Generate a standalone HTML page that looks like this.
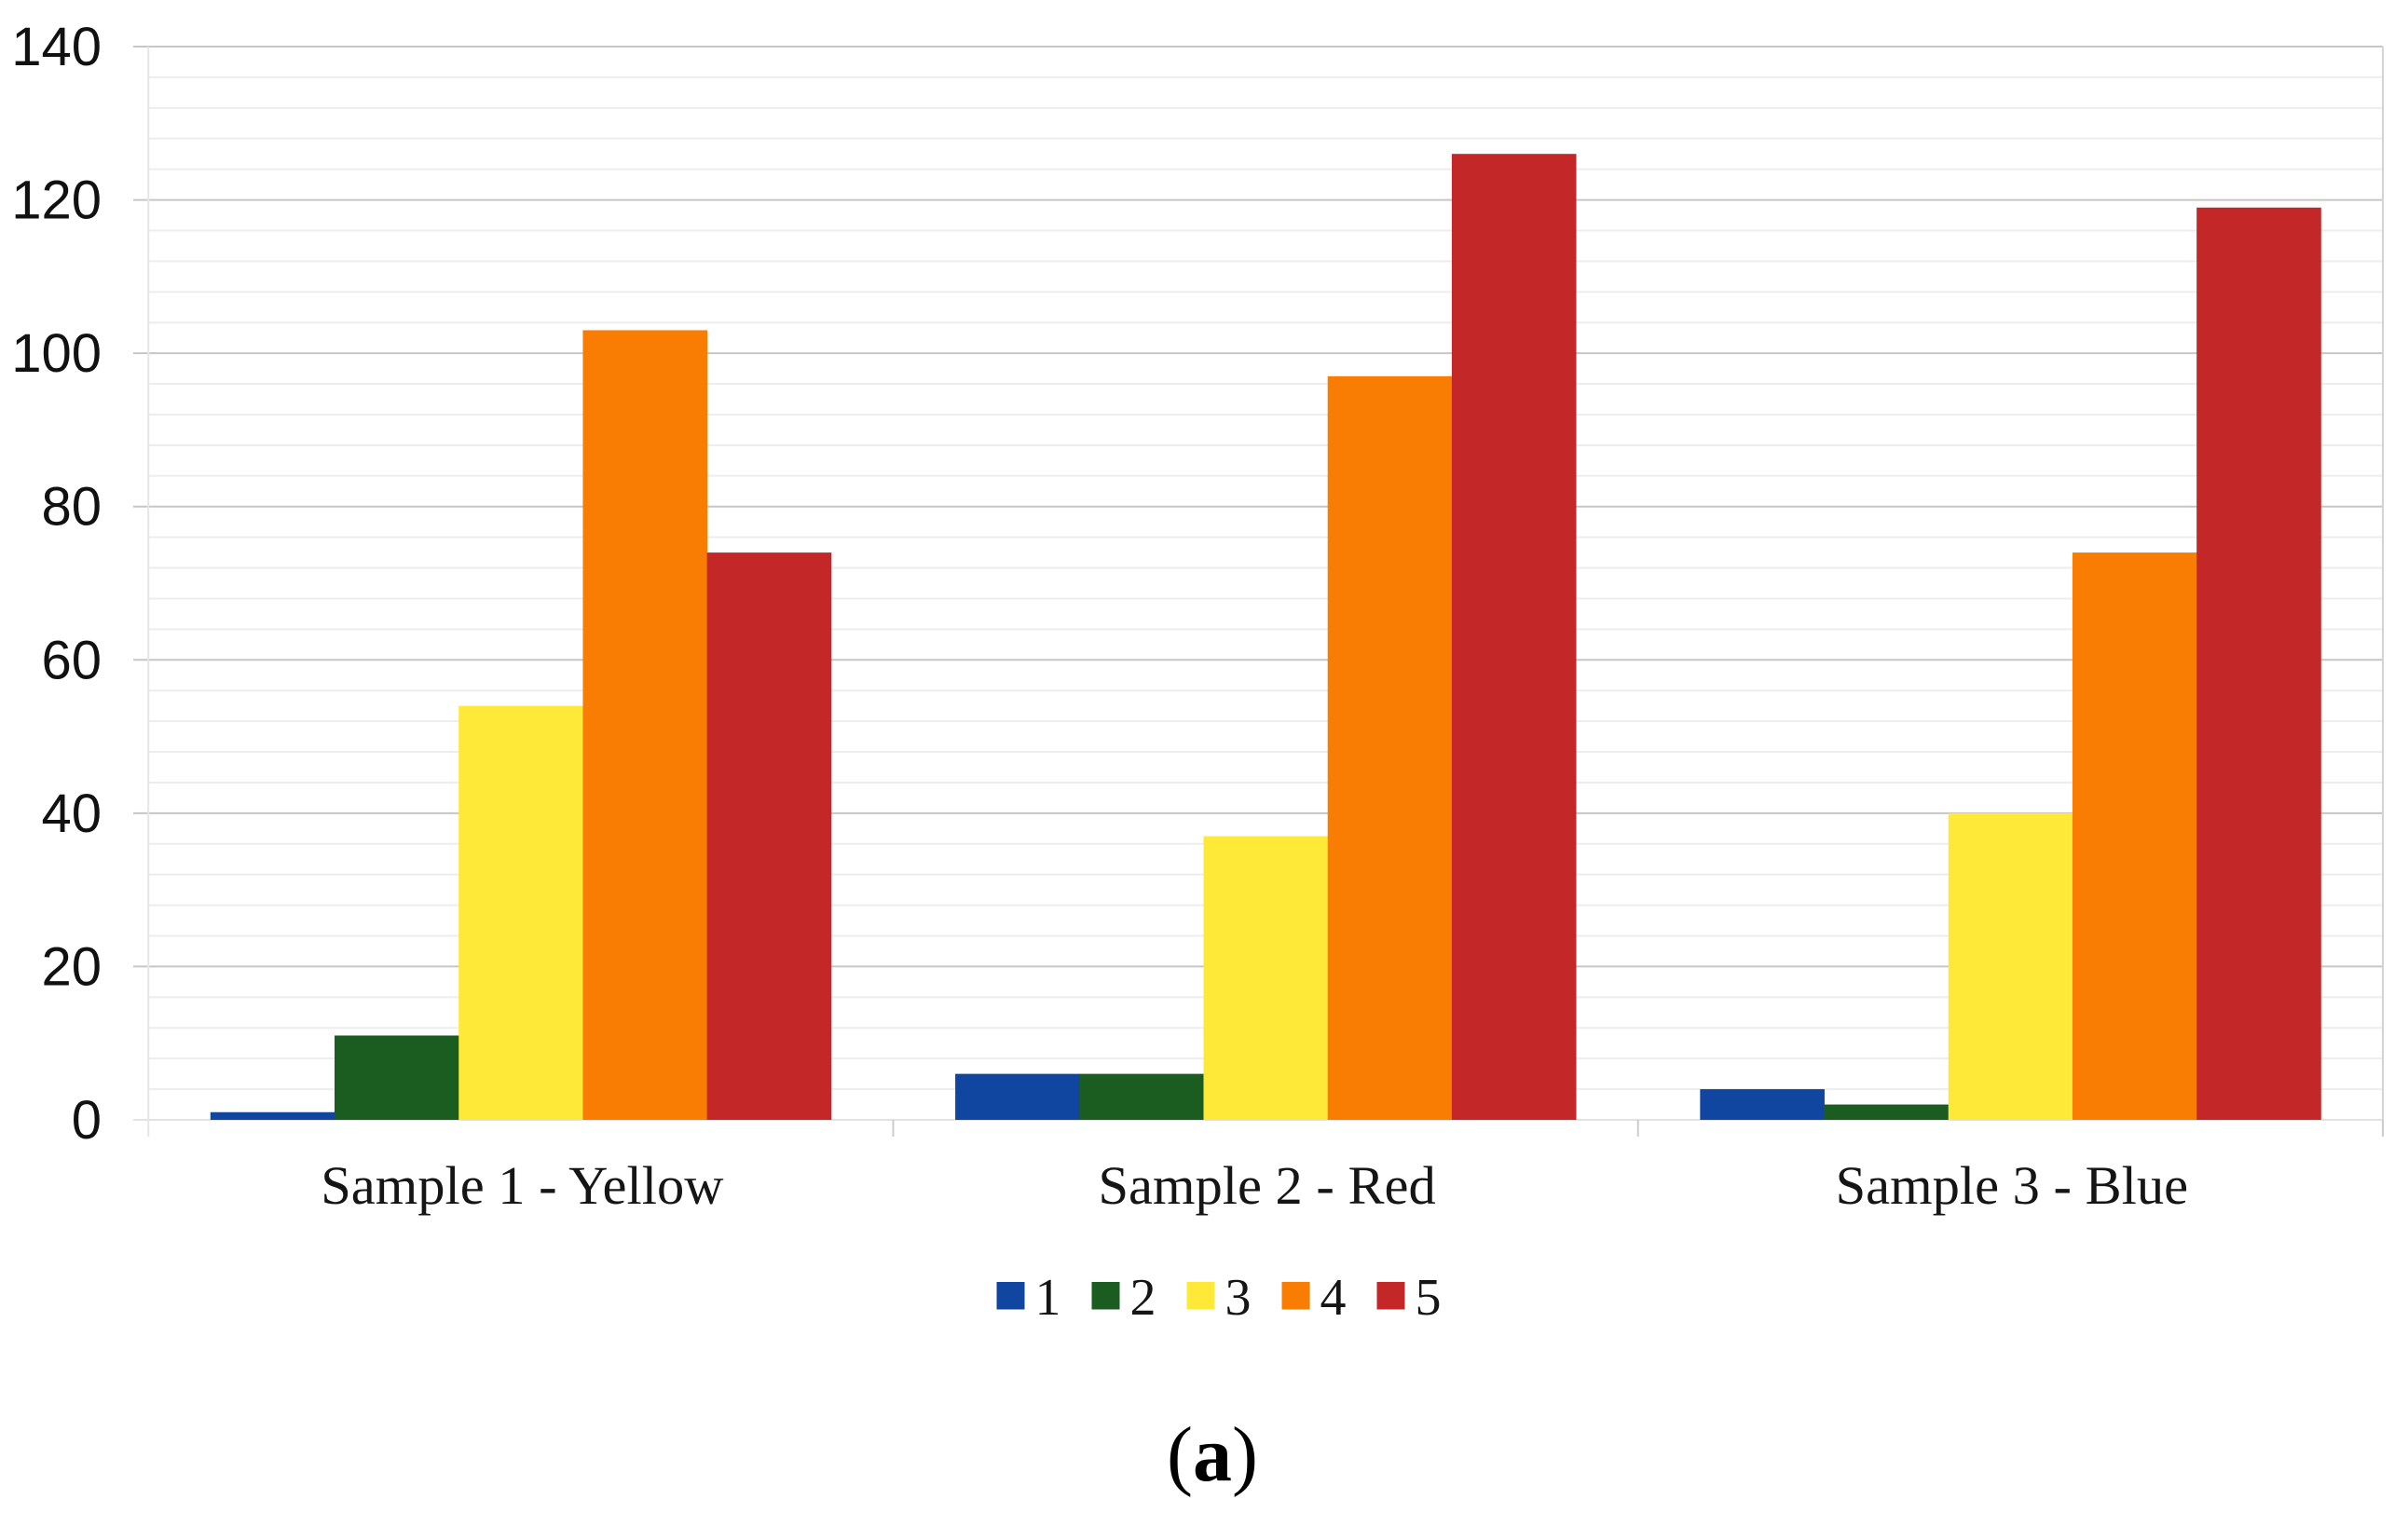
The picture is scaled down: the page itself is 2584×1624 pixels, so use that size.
<!DOCTYPE html>
<html lang="en">
<head>
<meta charset="utf-8">
<title>Sample bar chart</title>
<style>
  html, body { margin: 0; padding: 0; background: #ffffff; }
  body { width: 2584px; height: 1624px; overflow: hidden; }
  svg { display: block; }
  .tick { font-family: "Liberation Sans", sans-serif; font-size: 58px; fill: #111111; text-anchor: end; }
  .cat { font-family: "Liberation Serif", serif; font-size: 58.5px; fill: #151515; text-anchor: middle; }
  .leg { font-family: "Liberation Serif", serif; font-size: 56px; fill: #151515; }
  .cap { font-family: "Liberation Serif", serif; font-size: 84px; fill: #000000; text-anchor: middle; }
</style>
</head>
<body>
<svg id="chart" xmlns="http://www.w3.org/2000/svg" width="2584" height="1624" viewBox="0 0 2584 1624">
  <rect x="0" y="0" width="2584" height="1624" fill="#ffffff"></rect>
  <g id="grid"></g>
  <g id="yticks"></g>
  <g id="bars"></g>
  <g id="xticks"></g>
  <g id="legend"></g>
  <text class="cap" x="1301" y="1589">(<tspan font-weight="bold">a</tspan>)</text>
</svg>
<script>
const categories = ["Sample 1 - Yellow", "Sample 2 - Red", "Sample 3 - Blue"];
const seriesNames = ["1", "2", "3", "4", "5"];
const seriesColors = ["#10469f", "#1b5c20", "#ffe938", "#f97c03", "#c42727"];
const series1 = [1, 6, 4];
const series2 = [11, 6, 2];
const series3 = [54, 37, 40];
const series4 = [103, 97, 74];
const series5 = [74, 126, 119];
const yTickLabels = [0, 20, 40, 60, 80, 100, 120, 140];
const yMinorStep = 4;

const allSeries = [series1, series2, series3, series4, series5];
const NS = "http://www.w3.org/2000/svg";
const plotLeft = 159.2, plotRight = 2557, plotTop = 50, plotBottom = 1202;
const yMax = yTickLabels[yTickLabels.length - 1];

function yScale(v) {
  return plotBottom - (v / yMax) * (plotBottom - plotTop);
}
function groupLeft(i) {
  return plotLeft + i * (plotRight - plotLeft) / categories.length;
}
function groupWidth() {
  return (plotRight - plotLeft) / categories.length;
}
function barWidth() {
  return groupWidth() / (seriesNames.length + 1);
}
function barX(i, s) {
  return groupLeft(i) + barWidth() / 2 + s * barWidth();
}
function make(tag, parent, attrs) {
  const el = document.createElementNS(NS, tag);
  for (const k in attrs) el.setAttribute(k, attrs[k]);
  parent.appendChild(el);
  return el;
}

const grid = document.getElementById("grid");
const yticks = document.getElementById("yticks");
const bars = document.getElementById("bars");
const xticks = document.getElementById("xticks");
const legend = document.getElementById("legend");

for (let v = 0; v <= yMax; v += yMinorStep) {
  if (v % 20 === 0) continue;
  const line = make("line", grid, { x1: plotLeft, x2: plotRight, y1: yScale(v), y2: yScale(v), stroke: "#ededed", "stroke-width": 2 });
  
  
}

yTickLabels.forEach(function (v) {
  const line = make("line", grid, { x1: 143, x2: plotRight, y1: yScale(v), y2: yScale(v), stroke: v === 0 ? "#e2e2e2" : "#c6c6c6", "stroke-width": 2 });
  
  
  const label = make("text", yticks, { class: "tick", x: 109, y: yScale(v) + 20 });
  label.textContent = String(v);
  
  
});

const axisLeft = make("line", yticks, { x1: plotLeft, x2: plotLeft, y1: plotTop, y2: 1220, stroke: "#e6e6e6", "stroke-width": 2 });



const axisRight = make("line", yticks, { x1: plotRight, x2: plotRight, y1: plotTop, y2: 1220, stroke: "#d4d4d4", "stroke-width": 2 });



allSeries.forEach(function (vals, s) {
  vals.forEach(function (v, i) {
    const bar = make("rect", bars, {
      x: barX(i, s),
      y: yScale(v),
      width: barWidth() + 0.4,
      height: plotBottom - yScale(v),
      fill: seriesColors[s]
    });
    
    
  });
});

categories.forEach(function (c, i) {
  const tick = make("line", xticks, { x1: groupLeft(i + 1), x2: groupLeft(i + 1), y1: plotBottom, y2: 1220, stroke: "#cccccc", "stroke-width": 2 });
  
  
  const label = make("text", xticks, { class: "cat", x: groupLeft(i) + groupWidth() / 2 + 1.5, y: 1292 });
  label.textContent = c;
  
  
});

seriesNames.forEach(function (n, s) {
  const entry = make("g", legend, {});
  
  
  const x = 1069.5 + s * 102;
  const swatch = make("rect", entry, { x: x, y: 1376, width: 30, height: 29.5, fill: seriesColors[s] });
  
  
  const label = make("text", entry, { class: "leg", x: x + 41, y: 1411 });
  label.textContent = n;
  
  
});
</script>
</body>
</html>
